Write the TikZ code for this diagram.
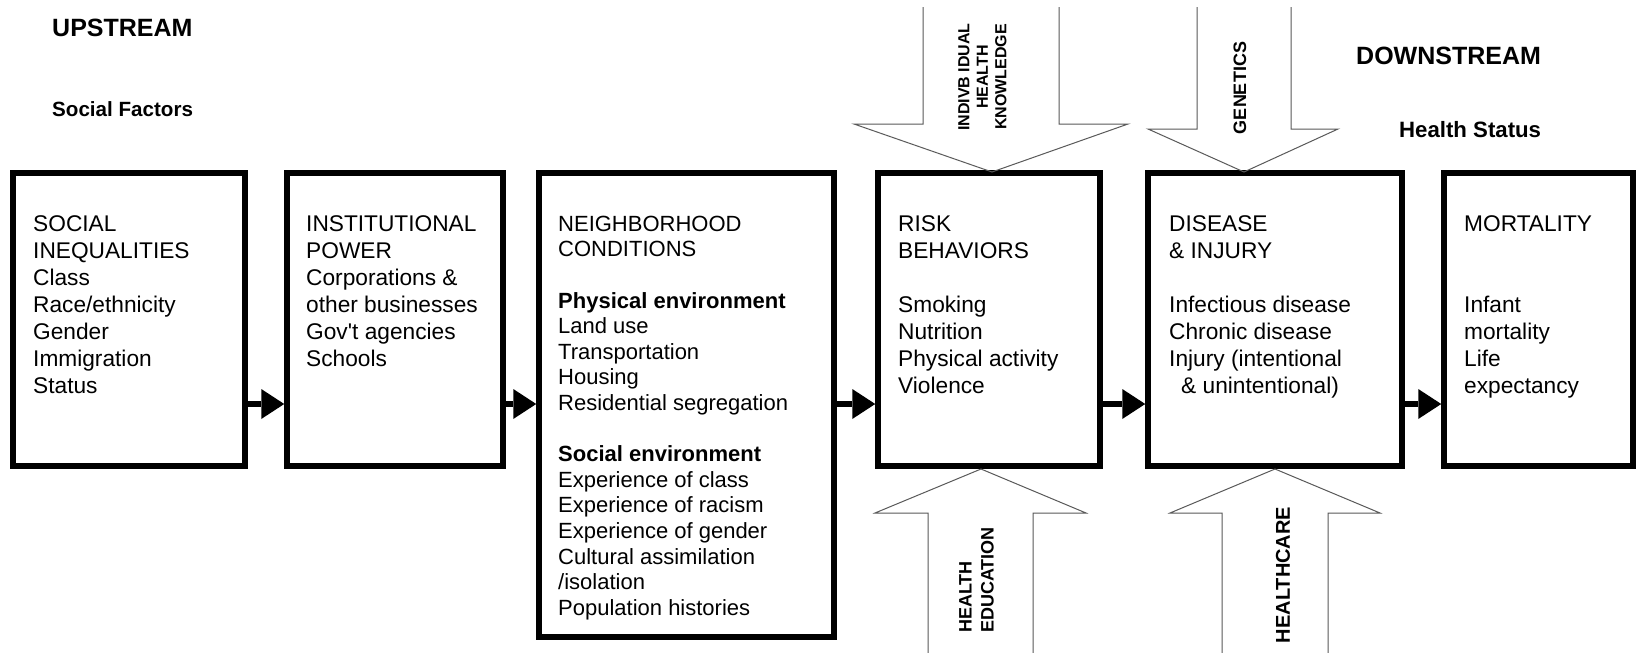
\documentclass[tikz,border=0pt]{standalone}
\usepackage{fontspec}
\setmainfont{Liberation Sans}
\usetikzlibrary{arrows.meta,calc}
\begin{document}
\begin{tikzpicture}[x=1pt,y=-1pt,
  box/.style={draw, line width=5.5pt, inner sep=0pt},
  btxt/.style={inner sep=0pt, align=left, anchor=north west, font=\fontsize{22.7}{27}\selectfont},
  btxtn/.style={inner sep=0pt, align=left, anchor=north west, font=\fontsize{22}{25.6}\selectfont},
  conn/.style={line width=6.5pt, -{Triangle[length=23pt,width=30pt,line width=0pt]}},
  hollow/.style={line width=1pt, draw=black!65, line join=miter},
  rot/.style={rotate=90, inner sep=0pt},
  head/.style={inner sep=0pt, font=\bfseries\fontsize{25}{28}\selectfont},
  sub/.style={inner sep=0pt, font=\bfseries\fontsize{20.6}{24}\selectfont}
]
\fill[white] (0,0) rectangle (1636,653);
\useasboundingbox (0,0) rectangle (1636,653);

% headings
\node[head, anchor=base west] (up) at (52,36) {UPSTREAM};
\node[sub, anchor=base west] (sf) at (52,116) {Social Factors};
\node[head, anchor=base west] (down) at (1356,64) {DOWNSTREAM};
\node[sub, anchor=base west, font=\bfseries\fontsize{22.2}{24}\selectfont] (hs) at (1399,137) {Health Status};

% boxes
\node[box, minimum width=232pt, minimum height=293pt] (b1) at (129,319.5) {};
\node[box, minimum width=216pt, minimum height=293pt] (b2) at (395,319.5) {};
\node[box, minimum width=295pt, minimum height=464pt] (b3) at (686.5,405) {};
\node[box, minimum width=222pt, minimum height=293pt] (b4) at (989,319.5) {};
\node[box, minimum width=254pt, minimum height=293pt] (b5) at (1275,319.5) {};
\node[box, minimum width=189pt, minimum height=293pt] (b6) at (1538.5,319.5) {};

% box texts
\node[btxt] (t1) at (33,212.1) {\strut SOCIAL\\INEQUALITIES\\Class\\Race/ethnicity\\Gender\\Immigration\\Status};
\node[btxt] (t2) at (306,212.1) {\strut INSTITUTIONAL\\POWER\\Corporations \&\\other businesses\\Gov\textquotesingle t agencies\\Schools};
\node[btxtn] (t3) at (558,213.1) {\strut NEIGHBORHOOD\\CONDITIONS\\[25.6pt]\textbf{Physical environment}\\Land use\\Transportation\\Housing\\Residential segregation\\[25.6pt]\textbf{Social environment}\\Experience of class\\Experience of racism\\Experience of gender\\Cultural assimilation\\/isolation\\Population histories};
\node[btxt] (t4) at (898,212.1) {\strut RISK\\BEHAVIORS\\[27pt]Smoking\\Nutrition\\Physical activity\\Violence};
\node[btxt] (t5) at (1169,212.1) {\strut DISEASE\\\& INJURY\\[27pt]Infectious disease\\Chronic disease\\Injury (intentional\\\hspace*{12pt}\& unintentional)};
\node[btxt] (t6) at (1464,212.1) {\strut MORTALITY\\[54pt]Infant\\mortality\\Life\\expectancy};

% connectors
\coordinate (ay) at (0,404);
\draw[conn] (b1.east |- ay) -- (b2.west |- ay);
\draw[conn] (b2.east |- ay) -- (b3.west |- ay);
\draw[conn] (b3.east |- ay) -- (b4.west |- ay);
\draw[conn] (b4.east |- ay) -- (b5.west |- ay);
\draw[conn] (b5.east |- ay) -- (b6.west |- ay);

% hollow arrows (top)
\draw[hollow] (923,7) -- (923,124) -- (854,124) -- (992,172) -- (1128,124) -- (1059,124) -- (1059,7);
\draw[hollow] (1197,7) -- (1197,129) -- (1148,129) -- (1244,172) -- (1338,129) -- (1291,129) -- (1291,7);
% hollow arrows (bottom)
\draw[hollow] (928,660) -- (928,513) -- (875,513) -- (981,469) -- (1086,513) -- (1033,513) -- (1033,660);
\draw[hollow] (1222,660) -- (1222,513) -- (1170,513) -- (1275,469) -- (1380,513) -- (1328,513) -- (1328,660);

% arrow labels
\node[rot, align=center, font=\bfseries\fontsize{16}{18.5}\selectfont] (ihk) at (982.5,77) {INDIVB IDUAL\\HEALTH\\KNOWLEDGE};
\node[rot, font=\bfseries\fontsize{18}{20}\selectfont] (gen) at (1240,88) {GENETICS};
\node[rot, anchor=west, align=left, font=\bfseries\fontsize{18}{22}\selectfont] (hed) at (976.5,633) {HEALTH\\EDUCATION};
\node[rot, font=\bfseries\fontsize{20}{22}\selectfont] (hc) at (1283,575) {HEALTHCARE};
\end{tikzpicture}
\end{document}
